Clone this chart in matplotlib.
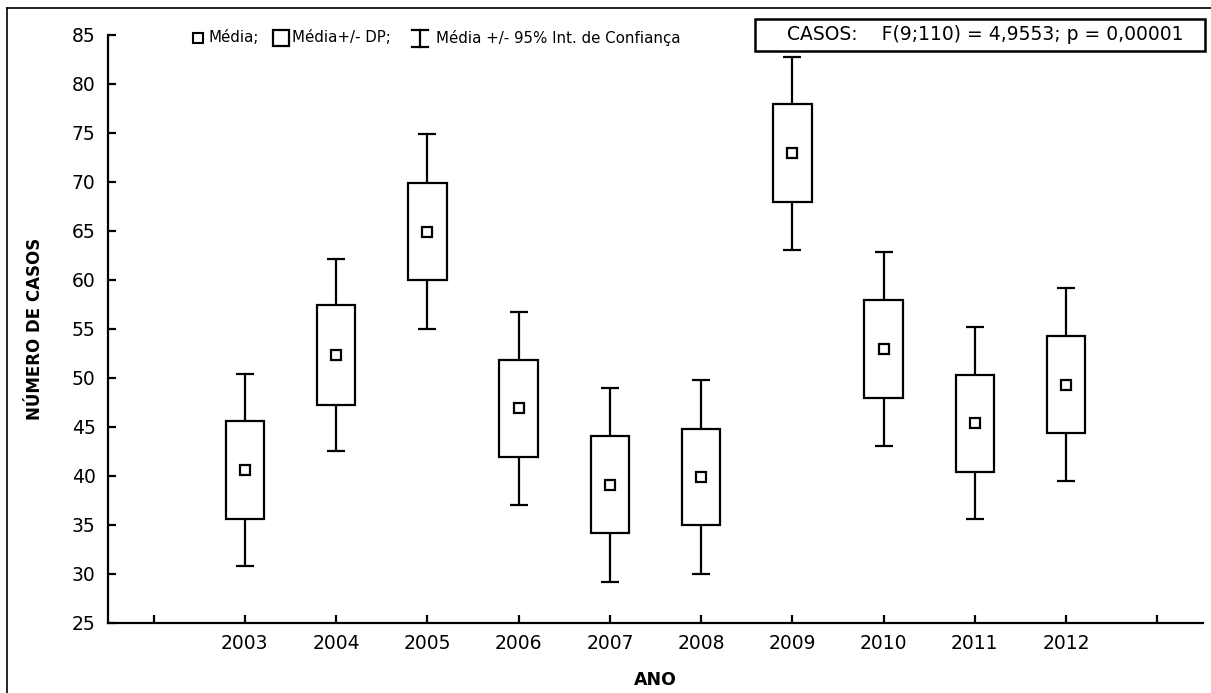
import matplotlib
matplotlib.use("Agg")
import matplotlib.pyplot as plt
from matplotlib.lines import Line2D
from matplotlib.patches import Rectangle

# ---- data ----
years = ["2003", "2004", "2005", "2006", "2007", "2008", "2009", "2010", "2011", "2012"]
means = [40.6, 52.3, 64.9, 46.9, 39.1, 39.9, 72.95, 52.9, 45.35, 49.3]
sd = [4.97, 5.1, 4.95, 4.95, 4.95, 4.9, 5.04, 5.0, 4.95, 4.95]
ci = [9.8, 9.8, 9.95, 9.85, 9.9, 9.9, 9.85, 9.9, 9.8, 9.85]
yticks = [25, 30, 35, 40, 45, 50, 55, 60, 65, 70, 75, 80, 85]
legend_labels = ["Média;", "Média+/- DP;", "Média +/- 95% Int. de Confiança"]
stat_text = "CASOS:    F(9;110) = 4,9553; p = 0,00001"
xlabel = "ANO"
ylabel = "NÚMERO DE CASOS"

plt.rcParams["font.family"] = ["DejaVu Sans"]

W, H = 1211, 693
fig = plt.figure(figsize=(W / 100, H / 100), dpi=100)
ax = fig.add_axes([108 / W, 1 - 622.7 / H, (1203 - 108) / W, (622.7 - 35) / H])

pos = list(range(len(years)))
lw = 1.6
lower = [m - s for m, s in zip(means, sd)]
heights = [2 * s for s in sd]

ax.errorbar(pos, means, yerr=ci, fmt="none", ecolor="black", elinewidth=lw,
            capsize=6.8, capthick=lw, zorder=1)
ax.bar(pos, heights, bottom=lower, width=0.42, facecolor="white",
       edgecolor="black", linewidth=lw, zorder=2)
ax.plot(pos, means, linestyle="none", marker="s", markersize=6.5,
        markerfacecolor="white", markeredgecolor="black", markeredgewidth=1.6, zorder=3)

ax.set_xlim(-1.5, 10.5)
ax.set_ylim(25, 85)
ax.set_xticks([-1] + pos + [10])
ax.set_xticklabels([""] + years + [""])
ax.set_yticks(yticks)
ax.set_yticklabels([str(v) for v in yticks])

for side in ["top", "right"]:
    ax.spines[side].set_visible(False)
for side in ["left", "bottom"]:
    ax.spines[side].set_linewidth(lw)
ax.tick_params(axis="both", direction="in", length=6, width=lw, labelsize=13.5)
ax.tick_params(axis="y", pad=9)
ax.tick_params(axis="x", pad=8)

fig.text(655 / W, 1 - 680 / H, xlabel, ha="center", va="center",
         fontsize=12.5, fontweight="bold")
fig.text(35 / W, 1 - 329 / H, ylabel, ha="center", va="center",
         rotation=90, fontsize=12, fontweight="bold")

# ---- legend (drawn manually) ----
ly = 1 - 38 / H
fig.add_artist(Line2D([198 / W], [ly], marker="s", markersize=6.5, markerfacecolor="white",
                      markeredgecolor="black", markeredgewidth=1.5, linestyle="none",
                      transform=fig.transFigure))
fig.text(209 / W, ly, legend_labels[0], ha="left", va="center", fontsize=10.8)
fig.add_artist(Line2D([281 / W], [ly], marker="s", markersize=11.5, markerfacecolor="white",
                      markeredgecolor="black", markeredgewidth=1.6, linestyle="none",
                      transform=fig.transFigure))
fig.text(292 / W, ly, legend_labels[1], ha="left", va="center", fontsize=10.8)
ix, it, ib = 420, 30, 47
fig.add_artist(Line2D([ix / W, ix / W], [1 - it / H, 1 - ib / H], color="black", lw=1.6,
                      transform=fig.transFigure))
fig.add_artist(Line2D([(ix - 8) / W, (ix + 8) / W], [1 - it / H, 1 - it / H], color="black",
                      lw=1.6, transform=fig.transFigure))
fig.add_artist(Line2D([(ix - 8) / W, (ix + 8) / W], [1 - ib / H, 1 - ib / H], color="black",
                      lw=1.6, transform=fig.transFigure))
fig.text(436 / W, ly, legend_labels[2], ha="left", va="center", fontsize=10.8)

# ---- statistics box ----
fig.add_artist(Rectangle((755 / W, 1 - 51 / H), (1205 - 755) / W, (51 - 19) / H,
                         facecolor="white", edgecolor="black", linewidth=1.8,
                         transform=fig.transFigure))
fig.text(985 / W, 1 - 35 / H, stat_text, ha="center", va="center", fontsize=13.5)

# ---- outer frame (left and top) ----
fig.add_artist(Line2D([7 / W, 7 / W], [0, 1 - 8 / H], color="black", lw=1.2,
                      transform=fig.transFigure))
fig.add_artist(Line2D([7 / W, 1], [1 - 8 / H, 1 - 8 / H], color="black", lw=1.2,
                      transform=fig.transFigure))

fig.savefig("out.png", dpi=100)
